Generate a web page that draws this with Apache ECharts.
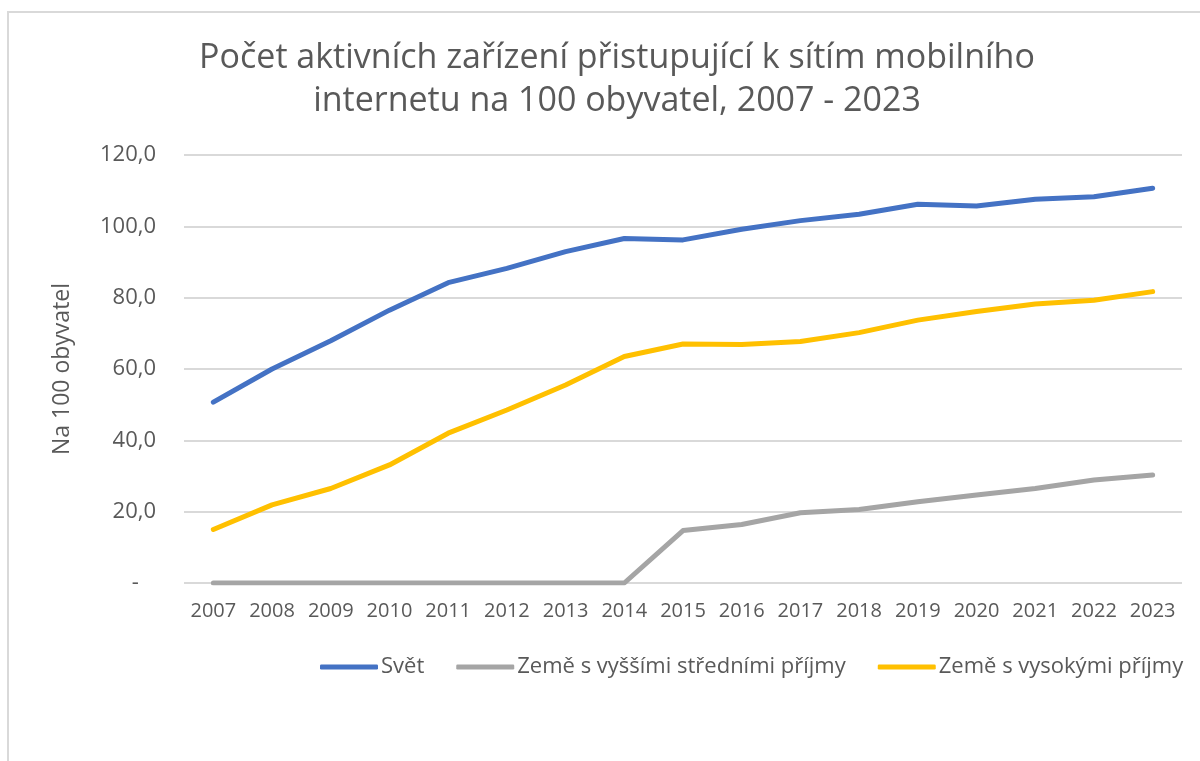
<!DOCTYPE html>
<html>
<head>
<meta charset="utf-8">
<script src="https://cdn.jsdelivr.net/npm/echarts@6/dist/echarts.min.js"></script>
<style>
  html, body { margin: 0; padding: 0; background: #fff; }
  #chart { width: 1200px; height: 761px; }
</style>
</head>
<body>
<div id="chart"></div>
<script>
// roky na ose x
const years = ['2007', '2008', '2009', '2010', '2011', '2012', '2013', '2014', '2015',
  '2016', '2017', '2018', '2019', '2020', '2021', '2022', '2023'];

// hodnoty
const svet = [50.7, 60.0, 67.9, 76.5, 84.2, 88.2, 92.9, 96.6, 96.2, 99.2, 101.6, 103.4, 106.2, 105.7, 107.6, 108.3, 110.7];
const vyssiStredni = [0, 0, 0, 0, 0, 0, 0, 0, 14.7, 16.4, 19.7, 20.6, 22.8, 24.7, 26.5, 28.9, 30.3];
const vysoke = [15.0, 21.9, 26.5, 33.1, 42.0, 48.5, 55.5, 63.5, 67.0, 66.9, 67.7, 70.2, 73.7, 76.1, 78.2, 79.3, 81.7];

const seriesNames = ['Svět', 'Země s vyššími středními příjmy', 'Země s vysokými příjmy'];
const yTicks = [0, 20, 40, 60, 80, 100, 120];

const font = "'Open Sans', sans-serif";
const textColor = '#595959';

const chart = echarts.init(document.getElementById('chart'));

function lineSeries(name, data, color) {
  return {
    name: name,
    type: 'line',
    data: data,
    symbol: 'none',
    lineStyle: { width: 5, color: color, cap: 'round', join: 'round' },
    itemStyle: { color: color }
  };
}

chart.setOption({
  backgroundColor: '#fff',
  textStyle: { fontFamily: font },
  graphic: [{
    type: 'rect',
    shape: { x: 8, y: 12, width: 1400, height: 900 },
    style: { fill: 'none', stroke: '#d9d9d9', lineWidth: 2 }
  }],
  title: {
    text: 'Počet aktivních zařízení přistupující k sítím mobilního\ninternetu na 100 obyvatel, 2007 - 2023',
    left: 612,
    top: 32,
    textAlign: 'center',
    textStyle: { fontFamily: font, fontSize: 34, fontWeight: 'normal', color: textColor, lineHeight: 43 }
  },
  legend: {
    left: 315,
    top: 651,
    itemWidth: 58,
    itemHeight: 5,
    itemGap: 32,
    icon: 'roundRect',
    textStyle: { fontFamily: font, fontSize: 22, color: textColor, padding: [0, 0, 0, -2] },
    data: seriesNames
  },
  grid: { left: 184, right: 18, top: 155, bottom: 178 },
  xAxis: {
    type: 'category',
    data: years,
    boundaryGap: true,
    axisLine: { show: false },
    axisTick: { show: false },
    axisLabel: { interval: 0, fontFamily: font, fontSize: 20, color: textColor, margin: 18 }
  },
  yAxis: {
    type: 'value',
    min: yTicks[0],
    max: yTicks[yTicks.length - 1],
    interval: 20,
    name: 'Na 100 obyvatel',
    nameLocation: 'middle',
    nameGap: 110,
    nameRotate: 90,
    nameTextStyle: { fontFamily: font, fontSize: 23, color: textColor },
    axisLine: { show: false },
    axisTick: { show: false },
    splitLine: { lineStyle: { color: '#d9d9d9', width: 2 } },
    axisLabel: {
      fontFamily: font,
      fontSize: 22,
      color: textColor,
      margin: 28,
      formatter: function (v) {
        return v === 0 ? '-   ' : v.toFixed(1).replace('.', ',');
      }
    }
  },
  series: [
    lineSeries(seriesNames[0], svet, '#4472c4'),
    lineSeries(seriesNames[1], vyssiStredni, '#a5a5a5'),
    lineSeries(seriesNames[2], vysoke, '#ffc000')
  ]
});
</script>
</body>
</html>
